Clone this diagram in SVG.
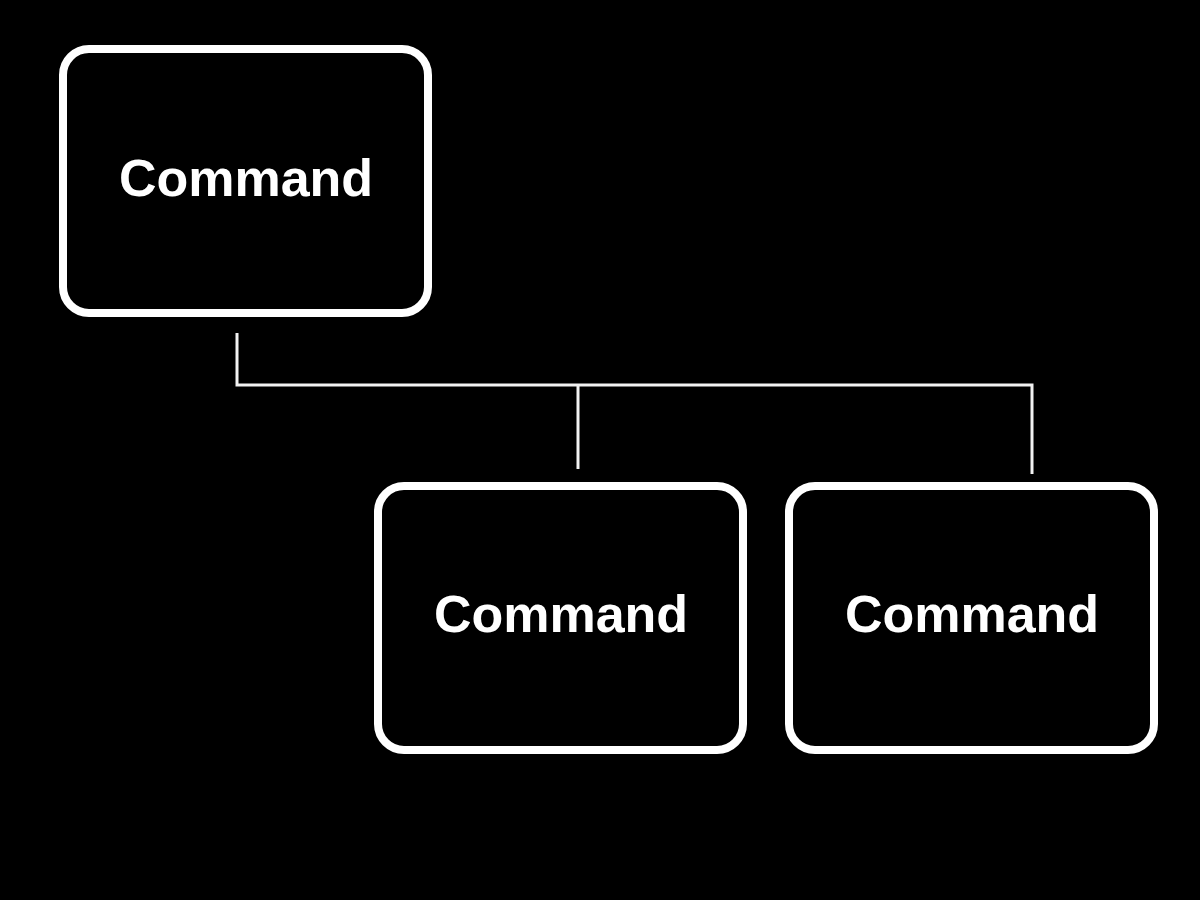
<svg xmlns="http://www.w3.org/2000/svg" width="1200" height="900" viewBox="0 0 1200 900">
  <style>
    .box { fill: #000; stroke: #fff; stroke-width: 8; }
    .label { fill: #fff; font-family: "Liberation Sans", Arial, sans-serif; font-weight: bold; font-size: 52px; text-anchor: middle; }
    .wire { fill: none; stroke: #f2f2f2; stroke-width: 3; stroke-linejoin: miter; stroke-linecap: butt; }
  </style>
  <rect width="1200" height="900" fill="#000"/>

  <g id="connectors">
    <polyline class="wire" points="237,333 237,385 1032,385 1032,474"/>
    <line class="wire" x1="578" y1="385" x2="578" y2="469"/>
  </g>

  <g id="command-root">
    <rect class="box" x="63" y="49" width="365" height="264" rx="26" ry="26"/>
    <text class="label" x="246" y="196">Command</text>
  </g>

  <g id="command-left">
    <rect class="box" x="378" y="486" width="365" height="264" rx="26" ry="26"/>
    <text class="label" x="561" y="632">Command</text>
  </g>

  <g id="command-right">
    <rect class="box" x="789" y="486" width="365" height="264" rx="26" ry="26"/>
    <text class="label" x="972" y="632">Command</text>
  </g>
</svg>
